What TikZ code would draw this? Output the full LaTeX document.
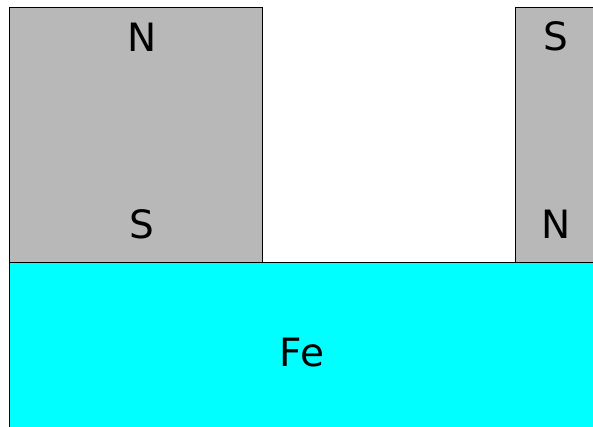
\documentclass[tikz,border=0pt]{standalone}
\usepackage{fontspec}
\setmainfont{DejaVu Sans}
\definecolor{magnetgrey}{HTML}{B8B8B8}
\definecolor{ironcyan}{HTML}{00FFFF}
\tikzset{
  magnet/.style={draw=black, line width=1pt, fill=magnetgrey},
  iron/.style={draw=black, line width=1pt, fill=ironcyan},
  pole/.style={font=\fontsize{39}{46}\selectfont, inner sep=0pt, anchor=center}
}
\begin{document}
\begin{tikzpicture}[x=1pt,y=-1pt]
\useasboundingbox (0,0) rectangle (593,427);
\clip (0,0) rectangle (593,427);
\draw[magnet] (9.5,8) rectangle (262,262);
\draw[magnet] (515.5,8) rectangle (640,262);
\draw[iron] (9.5,262) rectangle (640,460);
\node[pole] (n1) at (142,37) {N};
\node[pole] (s1) at (142,224) {S};
\node[pole] (s2) at (556,36) {S};
\node[pole] (n2) at (556,224) {N};
\node[pole] (fe) at (302,353) {Fe};
\end{tikzpicture}
\end{document}
